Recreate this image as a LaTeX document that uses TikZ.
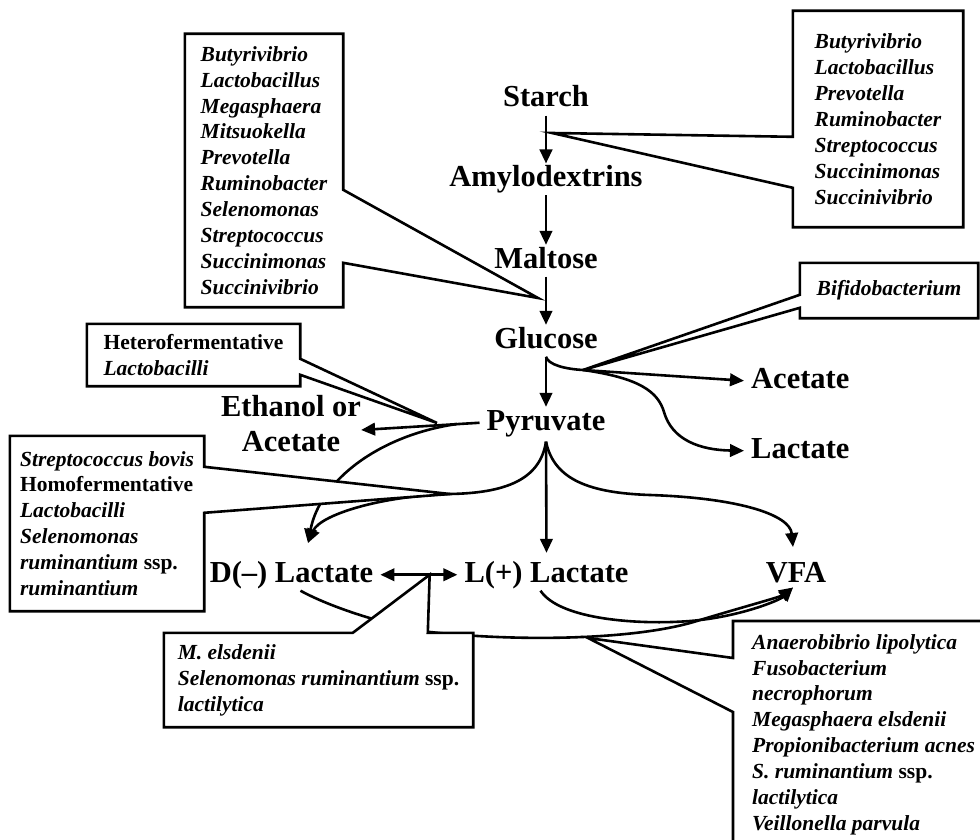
\documentclass[tikz,border=0pt]{standalone}
\usepackage{fontspec}
\setmainfont{Liberation Serif}
\usetikzlibrary{arrows.meta,calc}
\pgfdeclarelayer{front}
\pgfsetlayers{main,front}
\tikzset{
  met/.style={font=\fontsize{30.5}{35}\selectfont\bfseries, inner xsep=7pt, inner ysep=2pt, text height=21pt, text depth=6.5pt},
  lab/.style={font=\fontsize{30.5}{35}\selectfont\bfseries, inner sep=0pt, align=center},
  spbox/.style={font=\fontsize{21.5}{25.9}\selectfont\bfseries\itshape, align=left, inner sep=0pt},
  arr/.style={line width=2.6pt, -{Triangle[length=14pt,width=12.5pt]}},
  arr2/.style={line width=2.6pt, {Triangle[length=14pt,width=12.5pt]}-{Triangle[length=14pt,width=12.5pt]}},
  wedgebox/.style={draw, fill=white, line width=2.6pt, line join=miter},
}
\begin{document}
\begin{tikzpicture}[x=1pt,y=-1pt]
  \useasboundingbox (0,0) rectangle (980,840);
  \clip (0,0) rectangle (980,840);

  % pathway
  \node[met, anchor=base] (starch) at (546,107) {Starch};
  \node[met, anchor=base] (amylo) at (546,186.7) {Amylodextrins};
  \node[met, anchor=base] (malt) at (546,268) {Maltose};
  \node[met, anchor=base] (glu) at (546,348) {Glucose};
  \node[met, anchor=base] (pyr) at (546,430) {Pyruvate};
  \node[lab] (eth) at (291,424) {Ethanol or\\Acetate};
  \node[met, anchor=base west] (acet) at (744,388) {Acetate};
  \node[met, anchor=base west] (lact) at (744,458) {Lactate};
  \node[met, anchor=base] (dlac) at (291.5,582) {D(--) Lactate};
  \node[met, anchor=base] (llac) at (546.5,582) {L(+) Lactate};
  \node[met, anchor=base] (vfa) at (796,582) {VFA};

  \coordinate (gfork) at (583,370);
  \coordinate (pfork) at ([yshift=-3pt]pyr.south);
  \coordinate (efork) at (457,424);
  \coordinate (sfork) at (450,494);
  \coordinate (dtip) at (308,543);
  \coordinate (vtip) at (793,547);
  \coordinate (vbot) at (793,587.5);
  \coordinate (btip) at (588,638);
  \coordinate (stip) at (552,133);
  \coordinate (mtip) at (538,298);
  \coordinate (htip) at (437,423);
  \coordinate (jn) at ($(dlac.east)!0.64!(llac.west)$);

  \draw[arr] (starch) -- (amylo);
  \draw[arr] (amylo) -- (malt);
  \draw[arr] (malt) -- (glu);
  \draw[arr] (glu) -- (pyr);
  \draw[arr] (glu.south) .. controls +(2,8) and +(-18,-1) .. (gfork) -- (acet.west);
  \draw[arr] (gfork) .. controls (640,378) and (658,392) .. (664,412) .. controls (672,440) and (700,450) .. (lact.west);
  \draw[arr] (pyr.west) -- ([yshift=-6pt]eth.east);
  \draw[arr] (efork) .. controls (380,435) and (320,480) .. (dtip);
  \draw[arr] (pfork) .. controls (540,480) and (505,493) .. (sfork) .. controls (380,496) and (320,515) .. (dtip);
  \draw[arr] (pfork) -- ([yshift=6pt]llac.north);
  \draw[arr] (pfork) .. controls (554,480) and (590,493) .. (650,495) .. controls (740,498) and (790,515) .. (vtip);
  \draw[arr2] (dlac.east) -- (llac.west);
  \draw[arr] ([xshift=9pt]dlac.south) .. controls (330,607) and (385,625) .. (430,632) .. controls (520,642) and (640,640) .. (700,620) .. controls (750,605) and (780,597) .. (vbot);
  \draw[arr] ([xshift=-6pt]llac.south) .. controls (560,620) and (640,625) .. (690,621) .. controls (740,617) and (780,600) .. (vbot);

  % organisms
  \begin{pgfonlayer}{front}
    \node[spbox, minimum width=158pt, minimum height=273pt] (tl) at (264,170.5) {Butyrivibrio\\Lactobacillus\\Megasphaera\\Mitsuokella\\Prevotella\\Ruminobacter\\Selenomonas\\Streptococcus\\Succinimonas\\Succinivibrio};
    \node[spbox, minimum width=170pt, minimum height=216pt] (tr) at (878,119) {Butyrivibrio\\Lactobacillus\\Prevotella\\Ruminobacter\\Streptococcus\\Succinimonas\\Succinivibrio};
    \node[spbox, minimum width=178pt, minimum height=55pt] (bf) at (889,290.5) {Bifidobacterium};
    \node[spbox, minimum width=213pt, minimum height=62pt] (ht) at (193.5,355) {{\upshape Heterofermentative}\\Lactobacilli};
    \node[spbox, minimum width=194pt, minimum height=175pt] (sb) at (107,523.5) {Streptococcus bovis\\{\upshape Homofermentative}\\Lactobacilli\\Selenomonas\\ruminantium {\upshape ssp.}\\ruminantium};
    \node[spbox, minimum width=309pt, minimum height=94pt] (me) at (318.5,680) {M. elsdenii\\Selenomonas ruminantium {\upshape ssp.}\\lactilytica};
    \node[spbox, anchor=north west] (br) at (752,634) {Anaerobibrio lipolytica\\Fusobacterium\\necrophorum\\Megasphaera elsdenii\\Propionibacterium acnes\\S. ruminantium {\upshape ssp.}\\lactilytica\\Veillonella parvula};
  \end{pgfonlayer}

  \filldraw[wedgebox] (tl.north west) -- (tl.north east) -- ([yshift=-156pt]tl.north east) -- (mtip) -- ([yshift=-229pt]tl.north east) -- (tl.south east) -- (tl.south west) -- cycle;
  \filldraw[wedgebox] (tr.north west) -- (tr.north east) -- (tr.south east) -- (tr.south west) -- ([yshift=-177pt]tr.north west) -- (stip) -- ([yshift=-126pt]tr.north west) -- cycle;
  \filldraw[wedgebox] (bf.north west) -- (bf.north east) -- (bf.south east) -- (bf.south west) -- ([yshift=-45pt]bf.north west) -- (gfork) -- ([yshift=-32pt]bf.north west) -- cycle;
  \filldraw[wedgebox] (ht.north west) -- (ht.north east) -- ([yshift=-35pt]ht.north east) -- (htip) -- ([yshift=-51pt]ht.north east) -- (ht.south east) -- (ht.south west) -- cycle;
  \filldraw[wedgebox] (sb.north west) -- (sb.north east) -- ([yshift=-31pt]sb.north east) -- (sfork) -- ([yshift=-77pt]sb.north east) -- (sb.south east) -- (sb.south west) -- cycle;
  \filldraw[wedgebox] (me.north west) -- ([xshift=189pt]me.north west) -- (jn) -- ([xshift=264pt]me.north west) -- (me.north east) -- (me.south east) -- (me.south west) -- cycle;
  \filldraw[wedgebox] (1000,621) -- (733,621) -- (733,658) -- (btip) -- (733,712) -- (733,860) -- (1000,860) -- cycle;
\end{tikzpicture}
\end{document}
